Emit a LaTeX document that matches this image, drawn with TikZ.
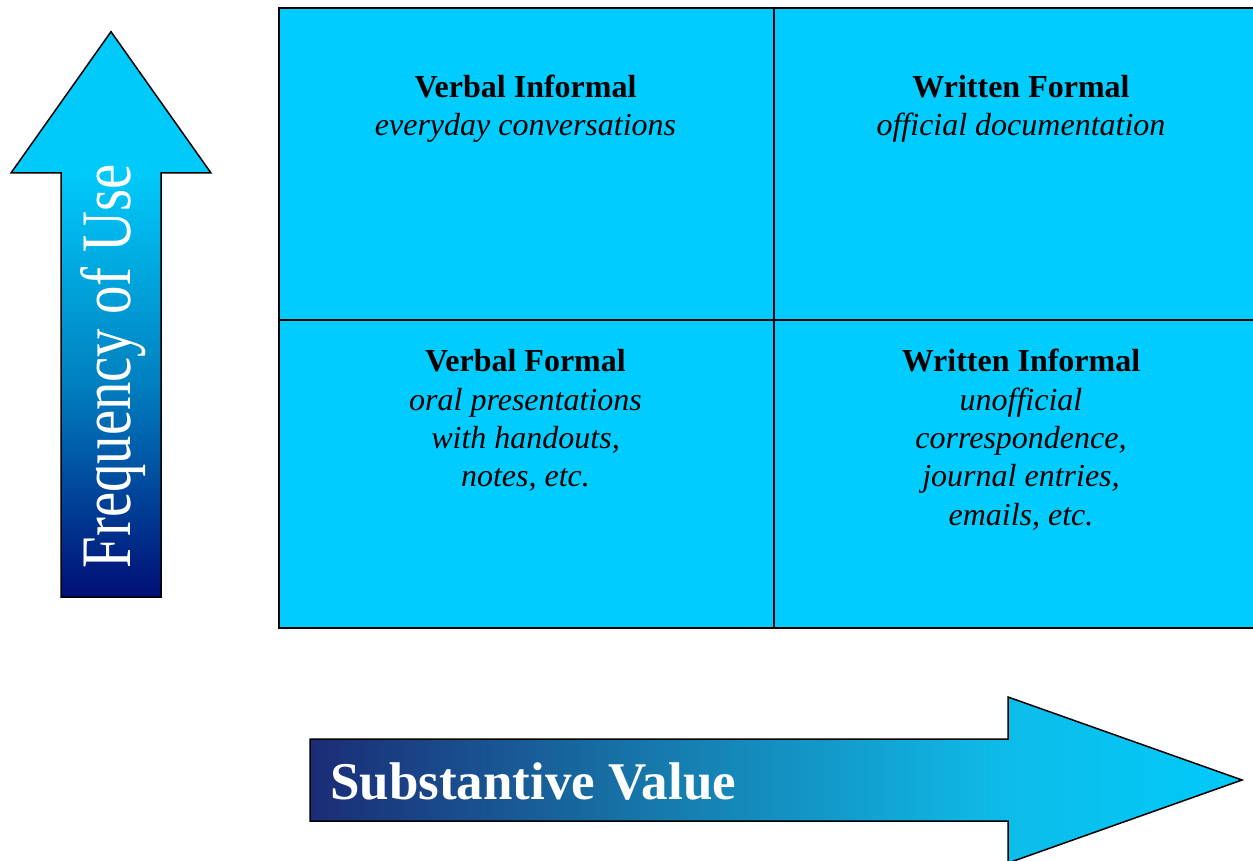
\documentclass[tikz,border=0pt]{standalone}
\usepackage{fontspec}
\setmainfont{Liberation Serif}
\usepackage{graphicx}

\definecolor{cellcyan}{RGB}{0,204,255}
\definecolor{freqnavy}{RGB}{0,14,118}
\definecolor{freqmid}{RGB}{0,128,192}
\definecolor{freqcyan}{RGB}{0,202,250}
\definecolor{valnavy}{RGB}{27,44,118}
\definecolor{valmid}{RGB}{22,122,172}
\definecolor{valhead}{RGB}{14,188,233}
\definecolor{valcyan}{RGB}{0,202,250}

% bottom-to-top fill of the vertical arrow (box edges sit at 25bp and 75bp)
\pgfdeclareverticalshading{freqshade}{100bp}{color(0bp)=(freqnavy); color(25bp)=(freqnavy); color(44bp)=(freqmid); color(62.5bp)=(freqcyan); color(100bp)=(freqcyan)}
% left-to-right fill of the horizontal arrow
\pgfdeclarehorizontalshading{valshade}{100bp}{color(0bp)=(valnavy); color(25bp)=(valnavy); color(43.8bp)=(valmid); color(62.4bp)=(valhead); color(75bp)=(valcyan); color(100bp)=(valcyan)}

\begin{document}
\begin{tikzpicture}[x=1pt,y=-1pt,
  cellbox/.style={draw=black, line width=2.4pt, fill=cellcyan, inner sep=0pt, anchor=north west},
  celltext/.style={align=center, inner sep=0pt, anchor=base, font=\fontsize{32}{38.3}\selectfont},
  arrowline/.style={draw=black, line width=1.5pt, line join=miter}]
\useasboundingbox (0,0) rectangle (1253,861);
\clip (0,0) rectangle (1253,861);

% the four quadrants
\node[cellbox, minimum width=495pt, minimum height=312pt] (vi) at (278,7) {};
\node[cellbox, minimum width=496pt, minimum height=312pt] (wf) at (773,7) {};
\node[cellbox, minimum width=495pt, minimum height=308pt] (vf) at (278,319) {};
\node[cellbox, minimum width=496pt, minimum height=308pt] (wi) at (773,319) {};

% quadrant labels (the base anchor of a stacked label lies below its last line)
\node[celltext] (vitext) at (525.5,136) {\textbf{Verbal Informal}\\\textit{everyday conversations}};
\node[celltext] (wftext) at (1021,136) {\textbf{Written Formal}\\\textit{official documentation}};
\node[celltext] (vftext) at (525.5,486.6) {\textbf{Verbal Formal}\\\textit{oral presentations}\\\textit{with handouts,}\\\textit{notes, etc.}};
\node[celltext] (witext) at (1021,525) {\textbf{Written Informal}\\\textit{unofficial}\\\textit{correspondence,}\\\textit{journal entries,}\\\textit{emails, etc.}};

% vertical axis arrow
\shadedraw[shading=freqshade, arrowline] (61,597) -- (61,173) -- (11,173) -- (111,31.7) -- (211,173) -- (161,173) -- (161,597) -- cycle;
\node[rotate=90, anchor=base, inner sep=0pt, text=white, font=\fontsize{71}{80}\selectfont] (freq) at (130,366.5) {\scalebox{0.8}[1]{Frequency of Use}};

% horizontal axis arrow
\shadedraw[shading=valshade, arrowline] (310,739) -- (1008,739) -- (1008,697) -- (1242,780) -- (1008,863) -- (1008,821) -- (310,821) -- cycle;
\node[anchor=base west, inner sep=0pt, text=white, font=\bfseries\fontsize{53}{60}\selectfont] (value) at (330,799) {Substantive Value};
\end{tikzpicture}
\end{document}
